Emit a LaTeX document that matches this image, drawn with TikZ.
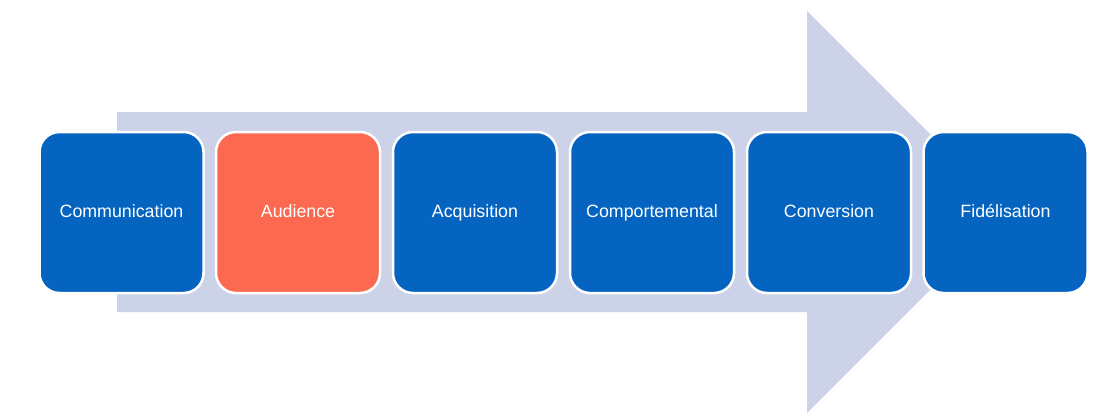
\documentclass[tikz,border=0pt]{standalone}
\usepackage{fontspec}
\setmainfont{Liberation Sans}
\definecolor{boxblue}{RGB}{5,100,192}
\definecolor{boxorange}{RGB}{251,106,80}
\definecolor{arrowgray}{RGB}{204,211,232}
\begin{document}
\begin{tikzpicture}[x=1pt,y=-1pt,
  stage/.style={draw=white, line width=2.5pt, outer sep=0pt, rounded corners=20pt, minimum width=164pt, minimum height=161pt, inner sep=0pt, text=white, text height=13pt, text depth=4pt, font=\fontsize{17.8}{20}\selectfont, anchor=north west}]
\useasboundingbox (0,0) rectangle (1111,418);
\fill[arrowgray] (117,112) -- (807,112) -- (807,11) -- (1008,212) -- (807,413) -- (807,312) -- (117,312) -- cycle;
\node[stage, fill=boxblue] (s1) at (39.5,132) {Communication};
\node[stage, fill=boxorange] (s2) at (216,132) {Audience};
\node[stage, fill=boxblue] (s3) at (393,132) {Acquisition};
\node[stage, fill=boxblue] (s4) at (570,132) {Comportemental};
\node[stage, fill=boxblue] (s5) at (747,132) {Conversion};
\node[stage, fill=boxblue] (s6) at (923.5,132) {Fidélisation};
\end{tikzpicture}
\end{document}
